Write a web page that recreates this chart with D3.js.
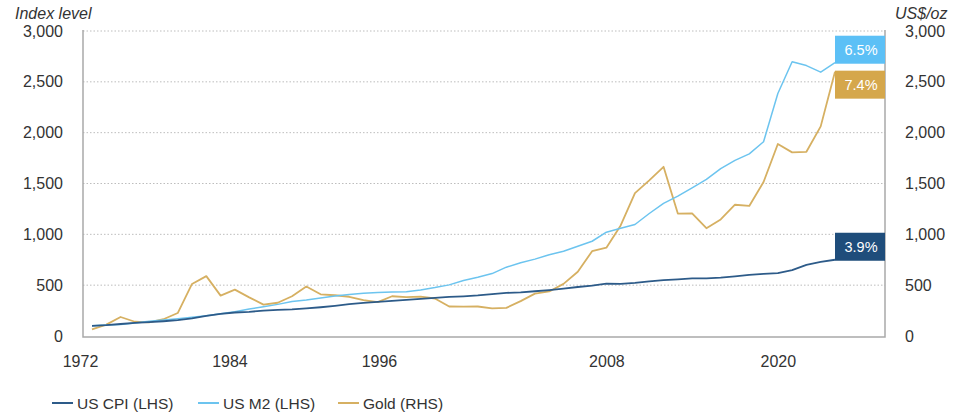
<!DOCTYPE html>
<html><head><meta charset="utf-8">
<script src="https://cdn.jsdelivr.net/npm/d3@7"></script>
<style>
html,body{margin:0;padding:0;background:#fff;}
svg{display:block;font-family:"Liberation Sans",Arial,sans-serif;}
</style></head>
<body>
<svg id="chart" width="964" height="413"></svg>
<script>
const years = d3.range(1972, 2025);
const cpi = [100,106,118,129,136,145,156,174,197,217,231,238,249,257,262,272,283,297,313,326,336,346,355,365,375,384,390,399,412,424,430,440,452,467,482,496,515,513,522,538,549,557,566,567,574,586,601,612,619,648,700,729,750];
const m2 = [100,107,112,127,144,158,170,184,200,219,238,265,288,311,340,353,373,393,408,420,427,433,435,453,476,503,546,578,614,677,720,756,800,833,882,932,1021,1059,1097,1205,1304,1376,1457,1540,1647,1728,1792,1911,2385,2698,2660,2595,2688];
const gold = [65,112,187,140,135,165,226,512,589,397,456,380,309,327,391,487,410,401,386,353,333,391,383,387,369,290,288,290,272,277,343,417,438,513,632,834,869,1087,1405,1531,1664,1204,1206,1060,1146,1291,1279,1515,1888,1806,1812,2062,2600];
const tickYears = [1972, 1984, 1996, 2008, 2020];
const tickLabels = ["1972", "1984", "1996", "2008", "2020"];
const yTicks = [0, 500, 1000, 1500, 2000, 2500, 3000];
const seriesNames = ["US CPI (LHS)", "US M2 (LHS)", "Gold (RHS)"];
const endLabels = ["3.9%", "6.5%", "7.4%"];

const colors = {cpi:"#2d5b89", m2:"#6cc4ef", gold:"#d6b062"};
const boxColors = {cpi:"#1f4d7b", m2:"#5cc0f6", gold:"#d5a74b"};

const svg = d3.select("#chart");
const L = 83, R = 885, T = 31, B = 336;
const x = d3.scaleLinear().domain([1972, 2024]).range([92, 835]);
const yL = d3.scaleLinear().domain([0, 3000]).range([B, T]);
const yR = d3.scaleLinear().domain([0, 3000]).range([B, T]);

// gridlines
svg.append("g").selectAll("line").data(yTicks.filter(d => d > 0)).join("line")
  .attr("x1", L).attr("x2", R).attr("y1", d => yL(d)).attr("y2", d => yL(d))
  .attr("stroke", "#bdbdbd").attr("stroke-width", 1).attr("stroke-dasharray", "1.5,2");

// frame
svg.append("path").attr("d", `M${L},${T-1}V${B+1}H${R}V${T-1}`)
  .attr("fill", "none").attr("stroke", "#a9a9a9").attr("stroke-width", 1.5);

// left axis
const axL = d3.axisLeft(yL).tickValues(yTicks).tickSize(0).tickPadding(0).tickFormat(d3.format(","));
const gL = svg.append("g").attr("transform", `translate(63,0)`).call(axL);
gL.select(".domain").remove();
gL.selectAll("text").attr("font-size", 16).attr("fill", "#333").attr("font-family", "Liberation Sans, Arial, sans-serif");

// right axis
const axR = d3.axisRight(yR).tickValues(yTicks).tickSize(0).tickPadding(0).tickFormat(d3.format(","));
const gR = svg.append("g").attr("transform", `translate(905,0)`).call(axR);
gR.select(".domain").remove();
gR.selectAll("text").attr("font-size", 16).attr("fill", "#333").attr("font-family", "Liberation Sans, Arial, sans-serif");

// bottom axis
const tickShift = [-12, -34, -56, 0, 0];
const axB = d3.axisBottom(x).tickValues(tickYears).tickSize(0).tickPadding(0)
  .tickFormat((d, i) => tickLabels[i]);
const gB = svg.append("g").attr("transform", `translate(0,356)`).call(axB);
gB.select(".domain").remove();
gB.selectAll("text").attr("font-size", 16).attr("fill", "#333")
  .attr("font-family", "Liberation Sans, Arial, sans-serif")
  .attr("dy", "0.71em")
  .attr("dx", (d, i) => tickShift[i]);

// axis titles
svg.append("text").attr("x", 15).attr("y", 19).attr("font-size", 16).attr("font-style", "italic")
  .attr("fill", "#333").text("Index level");
svg.append("text").attr("x", 895).attr("y", 19).attr("font-size", 16).attr("font-style", "italic")
  .attr("fill", "#333").text("US$/oz");

// lines
const series = [
  {key:"cpi", vals:cpi, y:yL, w:1.8},
  {key:"m2", vals:m2, y:yL, w:1.5},
  {key:"gold", vals:gold, y:yR, w:1.8}
];
const drawOrder = ["gold", "m2", "cpi"];
drawOrder.forEach(k => {
  const s = series.find(q => q.key === k);
  const line = d3.line().x((d, i) => x(years[i])).y(d => s.y(d));
  svg.append("path").datum(s.vals).attr("d", line).attr("fill", "none")
    .attr("stroke", colors[k]).attr("stroke-width", s.w).attr("stroke-linejoin", "round");
});

// end label boxes
const bw = 50, bh = 28;
const boxes = [
  {key:"cpi", label:endLabels[0], vals:cpi, y:yL, align:"bottom"},
  {key:"m2", label:endLabels[1], vals:m2, y:yL, align:"bottom"},
  {key:"gold", label:endLabels[2], vals:gold, y:yR, align:"top"}
];
boxes.forEach(b => {
  const lx = x(years[years.length - 1]);
  const ly = b.y(b.vals[b.vals.length - 1]);
  const top = b.align === "bottom" ? ly - bh + 1 : ly - 1;
  svg.append("rect").attr("x", lx).attr("y", top).attr("width", bw).attr("height", bh)
    .attr("fill", boxColors[b.key]);
  svg.append("text").attr("x", lx + bw / 2 + 1).attr("y", top + bh / 2 + 5)
    .attr("text-anchor", "middle").attr("font-size", 14.5).attr("fill", "#fff").text(b.label);
});

// legend
const legX = [52, 198, 338];
const lg = svg.append("g");
seriesNames.forEach((n, i) => {
  const k = ["cpi", "m2", "gold"][i];
  lg.append("line").attr("x1", legX[i]).attr("x2", legX[i] + 21).attr("y1", 403).attr("y2", 403)
    .attr("stroke", colors[k]).attr("stroke-width", 2);
  lg.append("text").attr("x", legX[i] + 25).attr("y", 408.5).attr("font-size", 15.5)
    .attr("fill", "#333").text(n);
});
</script>
</body></html>
